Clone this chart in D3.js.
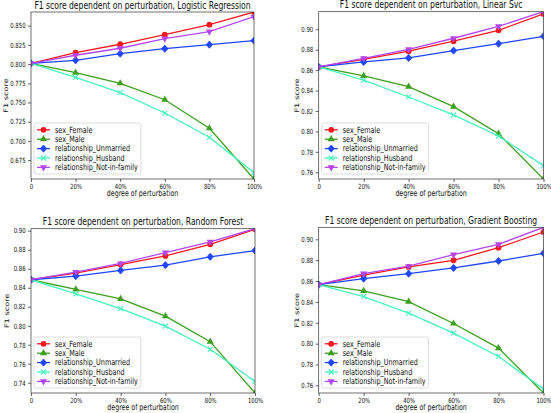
<!DOCTYPE html>
<html><head><meta charset="utf-8">
<script src="https://cdn.jsdelivr.net/npm/d3@7"></script>
<style>body{margin:0;background:#fff}svg{display:block}text{font-family:"DejaVu Sans",sans-serif;fill:#111}</style>
</head><body><svg id="c" width="551" height="413"></svg>
<script>
const xValues = [0, 20, 40, 60, 80, 100];
const xTickLabels = ["0", "20%", "40%", "60%", "80%", "100%"];
const seriesNames = ["sex_Female", "sex_Male", "relationship_Unmarried", "relationship_Husband", "relationship_Not-in-family"];
const titles = ["F1 score dependent on perturbation, Logistic Regression", "F1 score dependent on perturbation, Linear Svc",
  "F1 score dependent on perturbation, Random Forest", "F1 score dependent on perturbation, Gradient Boosting"];

// Logistic Regression
const lrFemale = [0.801, 0.8148, 0.8258, 0.8383, 0.8513, 0.8678];
const lrMale = [0.801, 0.7888, 0.7750, 0.7536, 0.7164, 0.6504];
const lrUnmarried = [0.801, 0.8049, 0.8135, 0.8200, 0.8253, 0.8305];
const lrHusband = [0.801, 0.7828, 0.7628, 0.7363, 0.7047, 0.6586];
const lrNotInFamily = [0.801, 0.8115, 0.8206, 0.8331, 0.8422, 0.8617];
// Linear Svc
const svcFemale = [0.8631, 0.8706, 0.8785, 0.8883, 0.8990, 0.9150];
const svcMale = [0.8631, 0.8543, 0.8438, 0.8242, 0.7978, 0.7534];
const svcUnmarried = [0.8631, 0.8680, 0.8719, 0.8791, 0.8859, 0.8931];
const svcHusband = [0.8631, 0.8501, 0.8337, 0.8161, 0.7955, 0.7665];
const svcNotInFamily = [0.8631, 0.8716, 0.8804, 0.8912, 0.9029, 0.9172];
// Random Forest
const rfFemale = [0.8484, 0.8553, 0.8644, 0.8735, 0.8857, 0.9014];
const rfMale = [0.8484, 0.8383, 0.8282, 0.8101, 0.7832, 0.7292];
const rfUnmarried = [0.8484, 0.8522, 0.8582, 0.8637, 0.8725, 0.8791];
const rfHusband = [0.8484, 0.8334, 0.8181, 0.7996, 0.7752, 0.7413];
const rfNotInFamily = [0.8484, 0.8564, 0.8655, 0.8770, 0.8882, 0.9021];
// Gradient Boosting
const gbFemale = [0.8566, 0.8656, 0.8735, 0.8799, 0.8920, 0.9070];
const gbMale = [0.8566, 0.8506, 0.8403, 0.8193, 0.7957, 0.7527];
const gbUnmarried = [0.8566, 0.8623, 0.8671, 0.8726, 0.8792, 0.8866];
const gbHusband = [0.8566, 0.8451, 0.8292, 0.8101, 0.7877, 0.7565];
const gbNotInFamily = [0.8566, 0.8671, 0.8742, 0.8853, 0.8952, 0.9115];

const lrYTicks = [0.675, 0.700, 0.725, 0.750, 0.775, 0.800, 0.825, 0.850];
const svcYTicks = [0.76, 0.78, 0.80, 0.82, 0.84, 0.86, 0.88, 0.90];
const rfYTicks = [0.74, 0.76, 0.78, 0.80, 0.82, 0.84, 0.86, 0.88, 0.90];
const gbYTicks = [0.76, 0.78, 0.80, 0.82, 0.84, 0.86, 0.88, 0.90];

const colors = ["#f5191e", "#3c9f1e", "#1e46ff", "#46f5b9", "#b446f0"];
const markers = ["circle", "triangle", "diamond", "cross", "tridown"];
const SQ = 0.75; // horizontal squeeze of text

const panels = [
  {title: titles[0], series: [lrFemale, lrMale, lrUnmarried, lrHusband, lrNotInFamily], ticks: lrYTicks, fmt: ".3f", box: [31, 12, 254, 179], ylabX: 4},
  {title: titles[1], series: [svcFemale, svcMale, svcUnmarried, svcHusband, svcNotInFamily], ticks: svcYTicks, fmt: ".2f", box: [318.7, 11.7, 543.5, 179], ylabX: 295},
  {title: titles[2], series: [rfFemale, rfMale, rfUnmarried, rfHusband, rfNotInFamily], ticks: rfYTicks, fmt: ".2f", box: [31, 228.7, 255, 393], ylabX: 5},
  {title: titles[3], series: [gbFemale, gbMale, gbUnmarried, gbHusband, gbNotInFamily], ticks: gbYTicks, fmt: ".2f", box: [318.7, 227.3, 543.5, 393], ylabX: 295}
];

const svg = d3.select("#c");

function sqText(g, x, y, str, size, anchor, rotate) {
  return g.append("text")
    .attr("transform", `translate(${x},${y})` + (rotate ? " rotate(-90)" : "") + (rotate ? ` scale(1,${SQ})` : ` scale(${SQ},1)`))
    .attr("text-anchor", anchor || "middle")
    .style("font-size", size + "px")
    .text(str);
}

function marker(g, type, x, y, color) {
  const r = 2.9;
  if (type === "circle") g.append("circle").attr("cx", x).attr("cy", y).attr("r", r).attr("fill", color);
  else if (type === "triangle") g.append("path").attr("d", d3.symbol(d3.symbolTriangle, 22)()).attr("transform", `translate(${x},${y})`).attr("fill", color);
  else if (type === "tridown") g.append("path").attr("d", d3.symbol(d3.symbolTriangle, 22)()).attr("transform", `translate(${x},${y}) rotate(180)`).attr("fill", color);
  else if (type === "diamond") g.append("path").attr("d", `M0,-3.6L3.2,0L0,3.6L-3.2,0Z`).attr("transform", `translate(${x},${y})`).attr("fill", color).attr("stroke", color).attr("stroke-width", 0.8).attr("stroke-linejoin", "round");
  else if (type === "cross") g.append("path").attr("d", "M-2.5,-2.5L2.5,2.5M-2.5,2.5L2.5,-2.5").attr("transform", `translate(${x},${y})`).attr("stroke", color).attr("stroke-width", 1.1).attr("fill", "none");
}

panels.forEach((p, i) => {
  const [x0, y0, x1, y1] = p.box;
  const g = svg.append("g");
  const all = p.series.flat();
  const x = d3.scaleLinear().domain(d3.extent(xValues)).range([x0, x1]);
  const y = d3.scaleLinear().domain(d3.extent(all)).range([y1, y0]);

  const cid = "clip" + i;
  svg.append("defs").append("clipPath").attr("id", cid).append("rect").attr("x", x0).attr("y", y0).attr("width", x1 - x0).attr("height", y1 - y0);

  const xa = g.append("g").attr("transform", `translate(0,${y1})`)
    .call(d3.axisBottom(x).tickValues(xValues).tickFormat((d, k) => xTickLabels[k]).tickSize(3).tickPadding(1.5));
  const ya = g.append("g").attr("transform", `translate(${x0},0)`)
    .call(d3.axisLeft(y).tickValues(p.ticks).tickFormat(d3.format(p.fmt)).tickSize(3).tickPadding(2.5));
  [xa, ya].forEach(a => {
    a.select(".domain").remove();
    a.selectAll(".tick line").attr("stroke", "#222").attr("stroke-width", 0.7);
    a.selectAll(".tick text").style("font-size", "7.1px").style("font-family", "DejaVu Sans").attr("fill", "#111");
  });
  xa.selectAll(".tick text").attr("transform", `scale(${SQ},1)`).attr("x", 0);
  ya.selectAll(".tick text").each(function() {
    const t = d3.select(this);
    t.attr("x", +t.attr("x") / SQ).attr("transform", `scale(${SQ},1)`);
  });

  const plot = g.append("g").attr("clip-path", `url(#${cid})`);
  const line = d3.line().x((d, k) => x(xValues[k])).y(d => y(d));
  p.series.forEach((s, si) => {
    plot.append("path").datum(s).attr("d", line).attr("fill", "none").attr("stroke", colors[si]).attr("stroke-width", 1.3);
    s.forEach((v, k) => marker(plot, markers[si], x(xValues[k]), y(v), colors[si]));
  });

  g.append("rect").attr("x", x0).attr("y", y0).attr("width", x1 - x0).attr("height", y1 - y0)
    .attr("fill", "none").attr("stroke", "#333").attr("stroke-width", 0.7);

  sqText(g, (x0 + x1) / 2, y0 - 3.3, p.title, 10.2, "middle");
  sqText(g, (x0 + x1) / 2, y1 + 17.2, "degree of perturbation", 8.4, "middle");
  sqText(g, p.ylabX + 3.5, (y0 + y1) / 2, "F1 score", 8.2, "middle", true);

  const lg = g.append("g");
  const rowH = 9.4, lx = x0 + 3, lh = rowH * 5 + 4;
  const ly = y1 - 5 - lh;
  const box = lg.append("rect").attr("x", lx).attr("y", ly).attr("rx", 2).attr("height", lh)
    .attr("fill", "rgba(255,255,255,0.85)").attr("stroke", "#d0d0d0").attr("stroke-width", 0.7);
  let maxW = 0;
  seriesNames.forEach((n, si) => {
    const cy = ly + 6.8 + si * rowH;
    lg.append("line").attr("x1", lx + 3).attr("x2", lx + 16).attr("y1", cy).attr("y2", cy).attr("stroke", colors[si]).attr("stroke-width", 1.3);
    marker(lg, markers[si], lx + 9.5, cy, colors[si]);
    const t = sqText(lg, lx + 21, cy + 2.8, n, 8.6, "start");
    maxW = Math.max(maxW, t.node().getComputedTextLength() * SQ);
  });
  box.attr("width", 21 + maxW + 3);
});
</script></body></html>
